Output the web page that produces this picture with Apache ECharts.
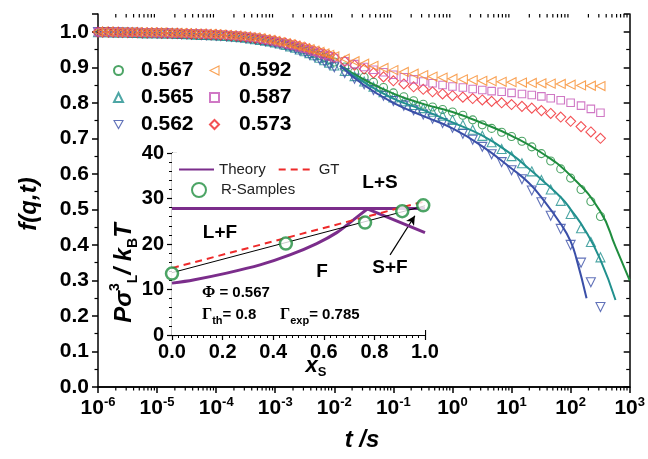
<!DOCTYPE html>
<html><head><meta charset="utf-8">
<script src="https://cdn.jsdelivr.net/npm/echarts@6/dist/echarts.min.js"></script>
<style>html,body{margin:0;padding:0;background:#fff}#c{width:648px;height:459px}</style>
</head><body><div id="c"></div>
<script>
// ---------- main panel data ----------
const times = [
  1e-6,1.2e-6,1.5e-6,1.8e-6,2.2e-6,2.6e-6,3.2e-6,3.8e-6,4.6e-6,5.6e-6,6.8e-6,8.2e-6,
  1e-5,1.2e-5,1.5e-5,1.8e-5,2.2e-5,2.6e-5,3.2e-5,3.8e-5,4.6e-5,5.6e-5,6.8e-5,8.2e-5,
  1e-4,1.2e-4,1.5e-4,1.8e-4,2.2e-4,2.6e-4,3.2e-4,3.8e-4,4.6e-4,5.6e-4,6.8e-4,8.2e-4,
  1e-3,1.2e-3,1.5e-3,1.8e-3,2.2e-3,2.6e-3,3.2e-3,3.8e-3,4.6e-3,5.6e-3,6.8e-3,8.2e-3,
  1e-2,1.5e-2,2.2e-2,3.2e-2,4.6e-2,6.8e-2,
  1e-1,1.5e-1,2.2e-1,3.2e-1,4.6e-1,6.8e-1,
  1,1.5,2.2,3.2,4.6,6.8,
  10,15,22,32,46,68,
  100,150,220,320
];
const f567 = [
  0.999,0.999,0.999,0.998,0.998,0.998,0.998,0.997,0.997,0.997,0.997,0.996,
  0.996,0.996,0.996,0.995,0.995,0.994,0.994,0.993,0.993,0.992,0.992,0.991,
  0.991,0.990,0.989,0.988,0.987,0.986,0.984,0.982,0.980,0.978,0.976,0.974,
  0.972,0.969,0.965,0.962,0.958,0.954,0.950,0.945,0.940,0.934,0.928,0.922,
  0.915,0.901,0.886,0.872,0.858,0.843,
  0.828,0.817,0.806,0.796,0.788,0.781,
  0.774,0.765,0.752,0.738,0.728,0.717,
  0.705,0.692,0.676,0.657,0.636,0.614,
  0.588,0.556,0.522,0.480
];
const f565 = [
  0.999,0.999,0.999,0.998,0.998,0.998,0.998,0.997,0.997,0.996,0.996,0.996,
  0.996,0.995,0.995,0.995,0.994,0.994,0.993,0.993,0.992,0.991,0.991,0.990,
  0.990,0.989,0.988,0.987,0.986,0.985,0.983,0.981,0.979,0.977,0.975,0.973,
  0.970,0.967,0.963,0.959,0.955,0.950,0.945,0.940,0.934,0.927,0.920,0.913,
  0.905,0.890,0.875,0.860,0.845,0.830,
  0.815,0.804,0.794,0.785,0.775,0.764,
  0.752,0.738,0.724,0.707,0.689,0.670,
  0.650,0.630,0.607,0.583,0.556,0.524,
  0.487,0.447,0.408,0.365
];
const f562 = [
  0.999,0.999,0.999,0.998,0.998,0.998,0.997,0.997,0.997,0.996,0.996,0.996,
  0.995,0.995,0.995,0.994,0.994,0.993,0.993,0.992,0.992,0.991,0.990,0.990,
  0.989,0.988,0.987,0.986,0.985,0.984,0.982,0.980,0.978,0.976,0.973,0.971,
  0.968,0.965,0.961,0.957,0.952,0.947,0.942,0.936,0.930,0.923,0.916,0.908,
  0.900,0.884,0.868,0.852,0.836,0.820,
  0.805,0.792,0.779,0.767,0.755,0.743,
  0.730,0.713,0.696,0.676,0.655,0.633,
  0.610,0.585,0.553,0.520,0.482,0.445,
  0.400,0.350,0.295,0.225
];
const f592 = [
  1.000,1.000,1.000,0.999,0.999,0.999,0.999,0.999,0.999,0.998,0.998,0.998,
  0.998,0.998,0.997,0.997,0.997,0.996,0.996,0.995,0.995,0.995,0.994,0.994,
  0.993,0.992,0.991,0.990,0.989,0.988,0.987,0.985,0.984,0.982,0.979,0.977,
  0.974,0.971,0.968,0.965,0.961,0.958,0.954,0.951,0.947,0.943,0.939,0.935,
  0.931,0.924,0.917,0.910,0.904,0.898,
  0.892,0.887,0.882,0.878,0.874,0.871,
  0.868,0.866,0.864,0.862,0.861,0.859,
  0.858,0.857,0.856,0.855,0.854,0.853,
  0.851,0.849,0.848,0.847
];
const f587 = [
  0.999,0.999,0.999,0.999,0.999,0.998,0.998,0.998,0.998,0.998,0.998,0.997,
  0.997,0.997,0.997,0.996,0.996,0.996,0.996,0.995,0.995,0.994,0.994,0.993,
  0.993,0.992,0.991,0.990,0.989,0.988,0.986,0.985,0.983,0.981,0.978,0.976,
  0.973,0.970,0.967,0.963,0.960,0.956,0.952,0.948,0.944,0.940,0.935,0.931,
  0.926,0.917,0.909,0.901,0.893,0.886,
  0.879,0.872,0.866,0.860,0.855,0.850,
  0.846,0.843,0.839,0.836,0.833,0.831,
  0.828,0.825,0.822,0.818,0.813,0.807,
  0.800,0.792,0.783,0.772
];
const f573 = [
  0.999,0.999,0.999,0.999,0.999,0.998,0.998,0.998,0.998,0.997,0.997,0.997,
  0.997,0.996,0.996,0.996,0.996,0.995,0.995,0.994,0.994,0.993,0.993,0.992,
  0.992,0.991,0.990,0.989,0.988,0.987,0.985,0.984,0.982,0.980,0.978,0.976,
  0.974,0.971,0.968,0.965,0.962,0.959,0.955,0.951,0.946,0.942,0.937,0.933,
  0.928,0.917,0.906,0.895,0.884,0.873,
  0.862,0.853,0.845,0.838,0.831,0.825,
  0.820,0.816,0.812,0.808,0.804,0.800,
  0.795,0.790,0.785,0.778,0.770,0.760,
  0.748,0.733,0.718,0.700
];
// theory fit curves (main panel)
const fitT567 = [0.0125,0.0316,0.1,0.316,1,3.16,10,31.6,100,316,575,1000];
const fitF567 = [0.905,0.866,0.826,0.797,0.774,0.743,0.707,0.660,0.595,0.495,0.395,0.300];
const fitT565 = [0.0125,0.0316,0.1,0.316,1,3.16,10,19.5,31.6,70,100,178,316,575];
const fitF565 = [0.905,0.858,0.812,0.780,0.745,0.708,0.655,0.615,0.585,0.532,0.500,0.440,0.360,0.245];
const fitT562 = [0.0125,0.0316,0.1,0.316,1,3.16,10,19.5,31.6,70,100,126,186];
const fitF562 = [0.905,0.850,0.800,0.763,0.728,0.678,0.615,0.575,0.535,0.456,0.410,0.360,0.250];
const yTickLabels = ['0.0','0.1','0.2','0.3','0.4','0.5','0.6','0.7','0.8','0.9','1.0'];

// ---------- inset data ----------
const thFlatX = [0, 1];
const thFlatY = [27.8, 27.8];
const thRiseX = [0, 0.084, 0.216, 0.348, 0.466, 0.572, 0.651, 0.717, 0.772];
const thRiseY = [11.4, 12.1, 13.6, 15.4, 17.6, 20.1, 22.5, 25.3, 27.7];
const thFallX = [0.772, 1.0];
const thFallY = [27.7, 22.5];
const gtX = [0, 1];
const gtY = [14.7, 29.4];
const linX = [0, 1];
const linY = [13.7, 28.4];
const sampX = [0, 0.45, 0.763, 0.91, 0.993];
const sampY = [13.5, 20.1, 24.7, 27.2, 28.5];

const C = {g:'#1f8d3e', t:'#21908e', b:'#3a4fa8', o:'#f78b2b', m:'#c456b6', r:'#f0262b'};
const pairs = (xs, ys) => xs.map((x, i) => [x, ys[i]]);
const minorT = [];
for (let e = -6; e < 3; e++) for (let k = 2; k <= 9; k++) minorT.push([k * Math.pow(10, e), 0]);

function marker(name, vals, symbol, color, rot, size) {
  return {type:'scatter', name, data: pairs(times, vals), symbol, symbolSize: size, symbolRotate: rot,
    xAxisIndex:0, yAxisIndex:0, silent:true,
    itemStyle:{color:'rgba(255,255,255,0)', borderColor: color, borderWidth: 1.1}};
}
function fit(ts, fs, color) {
  return {type:'line', data: pairs(ts, fs), showSymbol:false, symbol:'none', smooth:true, xAxisIndex:0, yAxisIndex:0,
    silent:true, lineStyle:{color, width:2}, z:5};
}
const FONT = 'Liberation Sans, Arial, sans-serif';
const lab = {color:'#000', fontFamily:FONT, fontWeight:'bold'};
const legIcon = {
  left: 'path://M10,0 L0,5 L10,10 Z',
  down: 'path://M0,0 L10,0 L5,9 Z'
};
const hollow = c => ({color:'rgba(255,255,255,0)', borderColor:c, borderWidth:1.1});
const noSym = {color:'rgba(0,0,0,0)', borderColor:'rgba(0,0,0,0)', borderWidth:0, opacity:0};

const chart = echarts.init(document.getElementById('c'), null, {renderer:'canvas'});
chart.setOption({
  animation:false,
  backgroundColor:'#fff',
  grid:[
    {left:98, top:14, width:533, height:373},
    {left:172, top:153, width:253, height:182, show:true, backgroundColor:'#fff', borderWidth:0, z:3}
  ],
  legend:[
    {data:[{name:'0.567'},{name:'0.565'},{name:'0.562', icon:legIcon.down, itemStyle:hollow(C.b)}],
     orient:'vertical', left:113, top:60, padding:0, itemGap:6, itemWidth:9, itemHeight:9,
     formatter: n => '{p|}' + n, textStyle:{...lab, fontSize:21, lineHeight:21, rich:{p:{width:13}}}},
    {data:[{name:'0.592', icon:legIcon.left, itemStyle:hollow(C.o)},{name:'0.587'},{name:'0.573'}],
     orient:'vertical', left:209, top:60, padding:0, itemGap:6, itemWidth:9, itemHeight:9,
     formatter: n => '{p|}' + n, textStyle:{...lab, fontSize:21, lineHeight:21, rich:{p:{width:15}}}},
    {data:[{name:'Theory', itemStyle:noSym}, {name:'GT', itemStyle:noSym}], orient:'horizontal', left:178, top:162, padding:0,
     itemGap:12, itemWidth:35, itemHeight:14, z:10,
     textStyle:{color:'#222', fontFamily:FONT, fontSize:15}},
    {data:['R-Samples'], orient:'horizontal', left:191, top:182, padding:0, itemWidth:14, itemHeight:14, z:10,
     formatter: n => '{p|}' + n, textStyle:{color:'#222', fontFamily:FONT, fontSize:15, rich:{p:{width:10}}}}
  ],
  xAxis:[
    {type:'log', logBase:10, gridIndex:0, min:1e-6, max:1e3, splitNumber:9, position:'bottom',
     axisLine:{lineStyle:{color:'#000', width:1.5}}, axisTick:{inside:false, length:6, lineStyle:{width:1.5, color:'#000'}},
     splitLine:{show:false},
     axisLabel:{margin:9, formatter: v => '{b|10}{s|' + Math.round(Math.log10(v)) + '}',
       rich:{b:{...lab, fontSize:21, lineHeight:25}, s:{...lab, fontSize:13, lineHeight:14, verticalAlign:'top'}}}},
    {type:'log', logBase:10, gridIndex:0, min:1e-6, max:1e3, splitNumber:9, position:'top',
     axisLine:{lineStyle:{color:'#000', width:1.5}}, axisTick:{inside:true, length:6, lineStyle:{width:1.5, color:'#000'}},
     axisLabel:{show:false}, splitLine:{show:false}},
    {type:'value', gridIndex:1, min:0, max:1, interval:0.2, position:'bottom',
     axisLine:{lineStyle:{color:'#000', width:1.2}}, axisTick:{inside:true, length:5, lineStyle:{color:'#000', width:1.2}},
     minorTick:{show:true, splitNumber:8, length:3, lineStyle:{color:'#000', width:1}},
     splitLine:{show:false},
     axisLabel:{...lab, fontSize:20, margin:7, formatter: v => v.toFixed(1)}},
    {type:'value', gridIndex:1, min:0, max:1, interval:0.2, position:'top',
     axisLine:{lineStyle:{color:'#000', width:1.2}}, axisTick:{inside:true, length:5, lineStyle:{color:'#000', width:1.2}},
     minorTick:{show:true, splitNumber:8, length:3, lineStyle:{color:'#000', width:1}},
     splitLine:{show:false}, axisLabel:{show:false}}
  ],
  yAxis:[
    {type:'value', gridIndex:0, min:0, max:1.05, interval:0.1, position:'left',
     axisLine:{lineStyle:{color:'#000', width:1.5}}, axisTick:{inside:false, length:6, lineStyle:{width:1.5, color:'#000'}},
     minorTick:{show:true, splitNumber:2, length:3.5, lineStyle:{width:1.2, color:'#000'}},
     splitLine:{show:false},
     axisLabel:{...lab, fontSize:21, margin:9, showMaxLabel:false, formatter: v => yTickLabels[Math.round(v * 10)] || ''}},
    {type:'value', gridIndex:0, min:0, max:1.05, interval:0.1, position:'right',
     axisLine:{lineStyle:{color:'#000', width:1.5}}, axisTick:{inside:true, length:6, lineStyle:{width:1.5, color:'#000'}},
     minorTick:{show:true, splitNumber:2, length:3.5, lineStyle:{width:1.2, color:'#000'}},
     splitLine:{show:false}, axisLabel:{show:false}},
    {type:'value', gridIndex:1, min:0, max:40, interval:10, position:'left',
     axisLine:{lineStyle:{color:'#000', width:1.2}}, axisTick:{inside:true, length:5, lineStyle:{color:'#000', width:1.2}},
     minorTick:{show:true, splitNumber:5, length:3, lineStyle:{color:'#000', width:1}},
     splitLine:{show:false}, axisLabel:{...lab, fontSize:20, margin:8}},
    {type:'value', gridIndex:1, min:0, max:40, interval:10, position:'right',
     axisLine:{lineStyle:{color:'#000', width:1.2}}, axisTick:{inside:true, length:5, lineStyle:{color:'#000', width:1.2}},
     minorTick:{show:true, splitNumber:5, length:3, lineStyle:{color:'#000', width:1}},
     splitLine:{show:false}, axisLabel:{show:false}}
  ],
  series:[
    marker('0.567', f567, 'circle', C.g, 0, 8),
    marker('0.565', f565, 'triangle', C.t, 0, 9),
    marker('0.562', f562, 'triangle', C.b, 180, 9),
    marker('0.573', f573, 'diamond', C.r, 0, 10),
    marker('0.587', f587, 'rect', C.m, 0, 7.5),
    marker('0.592', f592, 'triangle', C.o, 90, 9),
    fit(fitT567, fitF567, C.g),
    fit(fitT565, fitF565, C.t),
    fit(fitT562, fitF562, C.b),
    {type:'custom', xAxisIndex:0, yAxisIndex:0, data:minorT, silent:true, clip:false, z:6,
     renderItem:(p, api) => {
       const t = api.value(0);
       const b = api.coord([t, 0]);
       const top = api.coord([t, 1.05]);
       return {type:'group', children:[
         {type:'line', shape:{x1:b[0], y1:b[1], x2:b[0], y2:b[1] + 3.5}, style:{stroke:'#000', lineWidth:1.2}},
         {type:'line', shape:{x1:top[0], y1:top[1], x2:top[0], y2:top[1] + 3.5}, style:{stroke:'#000', lineWidth:1.2}}
       ]};
     }},
    // inset
    {type:'line', name:'Theory', data:pairs(thFlatX, thFlatY), xAxisIndex:2, yAxisIndex:2, symbol:'none', showSymbol:false, silent:true,
     lineStyle:{color:'#7b2d8b', width:3}, itemStyle:{color:'#7b2d8b'}, z:6},
    {type:'line', name:'Theory', data:pairs(thRiseX, thRiseY), xAxisIndex:2, yAxisIndex:2, symbol:'none', showSymbol:false, smooth:0.3, silent:true,
     lineStyle:{color:'#7b2d8b', width:3}, itemStyle:{color:'#7b2d8b'}, z:6},
    {type:'line', name:'Theory', data:pairs(thFallX, thFallY), xAxisIndex:2, yAxisIndex:2, symbol:'none', showSymbol:false, silent:true,
     lineStyle:{color:'#7b2d8b', width:3}, itemStyle:{color:'#7b2d8b'}, z:6},
    {type:'line', name:'GT', data:pairs(gtX, gtY), xAxisIndex:2, yAxisIndex:2, symbol:'none', showSymbol:false, silent:true,
     lineStyle:{color:'#ee2a2a', width:2, type:[7,5]}, itemStyle:{color:'#ee2a2a'}, z:6},
    {type:'line', name:'lin', data:pairs(linX, linY), xAxisIndex:2, yAxisIndex:2, symbol:'none', showSymbol:false, silent:true,
     lineStyle:{color:'#000', width:1}, z:6,
     markLine:{silent:true, symbol:['none','arrow'], symbolSize:[7,9], animation:false,
       lineStyle:{color:'#000', width:1.2, type:'solid'}, label:{show:false},
       data:[[{coord:[0.862, 17.6]}, {coord:[0.96, 26.2]}]]}},
    {type:'scatter', name:'R-Samples', data:pairs(sampX, sampY), xAxisIndex:2, yAxisIndex:2, symbol:'circle', symbolSize:12, silent:true,
     itemStyle:{color:'#fff', borderColor:'#1f8d3e', borderWidth:2.5}, z:7}
  ],
  graphic:[
    {type:'text', x:29, y:204, rotation:Math.PI/2, z:20,
     style:{text:'f(q,t)', font:'italic bold 24px ' + FONT, fill:'#000', align:'center', verticalAlign:'middle'}},
    {type:'text', x:362, y:440, z:20,
     style:{text:'t /s', font:'italic bold 24px ' + FONT, fill:'#000', align:'center', verticalAlign:'middle'}},
    {type:'text', x:124, y:273, rotation:Math.PI/2, z:20,
     style:{text:'{i|Pσ}{sup|3}{sub|L}{i|/ k}{sub|B}{i|T}', align:'center', verticalAlign:'middle', fill:'#000',
       rich:{i:{font:'italic bold 24px ' + FONT, lineHeight:32},
             sup:{font:'bold 14px ' + FONT, lineHeight:15, verticalAlign:'top'},
             sub:{font:'bold 14px ' + FONT, lineHeight:15, verticalAlign:'bottom'}}}},
    {type:'text', x:316, y:366, z:20,
     style:{text:'{i|x}{sub|S}', align:'center', verticalAlign:'middle', fill:'#000',
       rich:{i:{font:'italic bold 22px ' + FONT, lineHeight:26}, sub:{font:'bold 13px ' + FONT, lineHeight:13, verticalAlign:'bottom'}}}},
    {type:'text', x:380, y:183, z:20, style:{text:'L+S', font:'bold 19px ' + FONT, fill:'#000', align:'center', verticalAlign:'middle'}},
    {type:'text', x:220, y:233, z:20, style:{text:'L+F', font:'bold 19px ' + FONT, fill:'#000', align:'center', verticalAlign:'middle'}},
    {type:'text', x:322, y:272, z:20, style:{text:'F', font:'bold 19px ' + FONT, fill:'#000', align:'center', verticalAlign:'middle'}},
    {type:'text', x:390, y:268, z:20, style:{text:'S+F', font:'bold 19px ' + FONT, fill:'#000', align:'center', verticalAlign:'middle'}},
    {type:'text', x:202, y:293, z:20,
     style:{text:'{g|Φ}{n| = 0.567}', align:'left', verticalAlign:'middle', fill:'#000',
       rich:{g:{font:'bold 16px Liberation Serif, serif'}, n:{font:'bold 15px ' + FONT}}}},
    {type:'text', x:202, y:315, z:20,
     style:{text:'{g|Γ}{sub|th}{n|= 0.8}', align:'left', verticalAlign:'middle', fill:'#000',
       rich:{g:{font:'bold 16px Liberation Serif, serif', lineHeight:22}, sub:{font:'bold 11px ' + FONT, lineHeight:11, verticalAlign:'bottom'}, n:{font:'bold 15px ' + FONT, lineHeight:22}}}},
    {type:'text', x:280, y:315, z:20,
     style:{text:'{g|Γ}{sub|exp}{n|= 0.785}', align:'left', verticalAlign:'middle', fill:'#000',
       rich:{g:{font:'bold 16px Liberation Serif, serif', lineHeight:22}, sub:{font:'bold 11px ' + FONT, lineHeight:11, verticalAlign:'bottom'}, n:{font:'bold 15px ' + FONT, lineHeight:22}}}}
  ]
});
</script></body></html>
